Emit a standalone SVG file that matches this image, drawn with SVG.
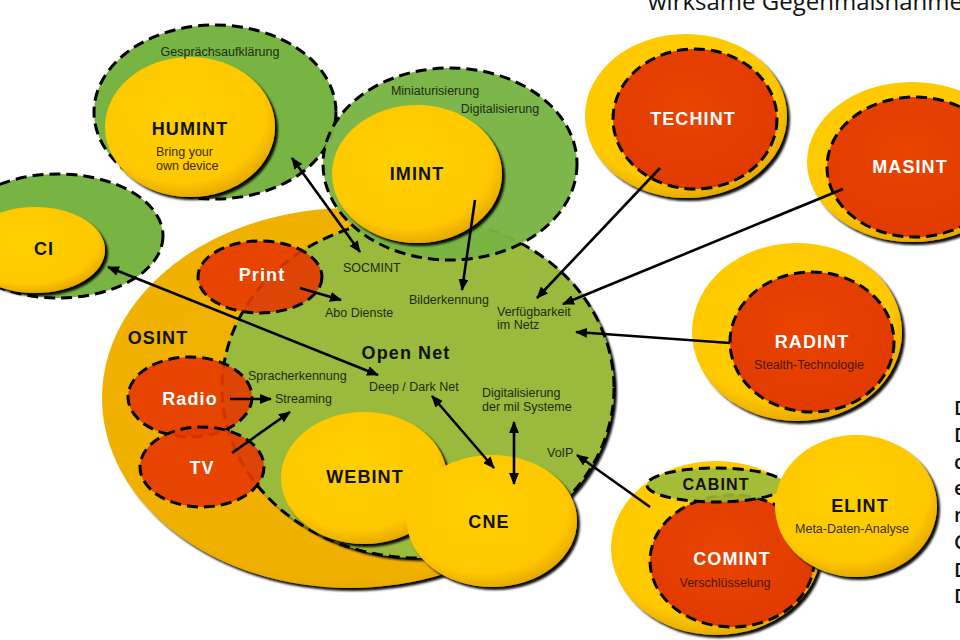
<svg xmlns="http://www.w3.org/2000/svg" width="960" height="640" viewBox="0 0 960 640">
<style>
.b{font-family:"Liberation Sans",Arial,sans-serif;font-weight:bold;font-size:18px;letter-spacing:1.1px;text-anchor:middle;fill:#111}
.w{fill:#fff}
.s{font-family:"Liberation Sans",Arial,sans-serif;font-size:12.5px;fill:#1f2a10}
.m{text-anchor:middle}
.dash{stroke:#000;stroke-width:3;stroke-dasharray:11 6;fill-rule:nonzero}
.ln{stroke:#000;stroke-width:2.6;fill:none}
.t{font-family:"Open Sans","DejaVu Sans",sans-serif;font-size:24px;fill:#111}
.e{font-family:"Open Sans","DejaVu Sans",sans-serif;font-size:20px;font-weight:600;fill:#111}
</style>
<defs>
<radialGradient id="yel" cx="45%" cy="40%" r="62%">
<stop offset="0" stop-color="#ffd000"/><stop offset="0.8" stop-color="#ffc800"/><stop offset="1" stop-color="#e3a600"/>
</radialGradient>
<radialGradient id="osi" cx="50%" cy="45%" r="60%">
<stop offset="0" stop-color="#f2b400"/><stop offset="0.88" stop-color="#efb000"/><stop offset="1" stop-color="#dc9e00"/>
</radialGradient>
<radialGradient id="red" cx="45%" cy="40%" r="62%">
<stop offset="0" stop-color="#ea4400"/><stop offset="1" stop-color="#e03a00"/>
</radialGradient>
<filter id="sh" x="-10%" y="-10%" width="130%" height="130%">
<feDropShadow dx="3" dy="3" stdDeviation="1" flood-color="#000" flood-opacity="0.95"/>
</filter>
<marker id="ah" viewBox="0 0 12 10" refX="11" refY="5" markerWidth="12" markerHeight="10" markerUnits="userSpaceOnUse" orient="auto-start-reverse">
<path d="M0,0 L12,5 L0,10 Z" fill="#000"/>
</marker>
</defs>
<rect width="960" height="640" fill="#fff"/>
<text class="t" x="648" y="10">wirksame Gegenmaßnahmen</text>
<g id="right-text">
<text class="e" x="954" y="415">D</text>
<text class="e" x="954" y="442">D</text>
<text class="e" x="954" y="469">c</text>
<text class="e" x="954" y="495">e</text>
<text class="e" x="954" y="522">n</text>
<text class="e" x="954" y="549">C</text>
<text class="e" x="954" y="577">D</text>
<text class="e" x="954" y="603">D</text>
</g>
<g id="osint">
<ellipse cx="350" cy="398" rx="248" ry="190" fill="url(#osi)" filter="url(#sh)"/>
</g>
<g id="opennet">
<ellipse cx="418" cy="388" rx="196" ry="170" fill="#9aba3c" filter="url(#sh)"/>
<ellipse cx="418" cy="388" rx="196" ry="170" fill="none" class="dash"/>
</g>
<g id="print"><ellipse cx="260" cy="277" rx="62" ry="36" fill="#e43800" fill-opacity="0.9" class="dash"/></g>
<g id="radio"><ellipse cx="190" cy="397" rx="62" ry="40" fill="#e43800" fill-opacity="0.9" class="dash"/></g>
<g id="tv"><ellipse cx="202" cy="467" rx="62" ry="40" fill="#e43800" fill-opacity="0.9" class="dash"/></g>
<g id="webint"><ellipse cx="364" cy="478" rx="83" ry="66" fill="url(#yel)" filter="url(#sh)"/></g>
<g id="cne"><ellipse cx="492" cy="521" rx="85" ry="66" fill="url(#yel)" filter="url(#sh)"/></g>
<g id="humint">
<ellipse cx="215" cy="112" rx="121" ry="87" fill="#78b444" class="dash"/>
<ellipse cx="190" cy="127" rx="85" ry="70" fill="url(#yel)" filter="url(#sh)"/>
</g>
<g id="imint">
<ellipse cx="450" cy="164" rx="127" ry="96" fill="#78b444" fill-opacity="0.96" class="dash"/>
<ellipse cx="417" cy="174" rx="85" ry="69" fill="url(#yel)" filter="url(#sh)"/>
</g>
<g id="ci">
<ellipse cx="58" cy="236" rx="105" ry="62" fill="#78b444" class="dash"/>
<ellipse cx="35" cy="250" rx="70" ry="43" fill="url(#yel)" filter="url(#sh)"/>
</g>
<g id="techint">
<ellipse cx="686" cy="116" rx="101" ry="82" fill="url(#yel)" filter="url(#sh)"/>
<ellipse cx="695" cy="119" rx="82" ry="70" fill="url(#red)" class="dash"/>
</g>
<g id="masint">
<ellipse cx="912" cy="162" rx="105" ry="80" fill="url(#yel)" filter="url(#sh)"/>
<ellipse cx="915" cy="167" rx="88" ry="70" fill="url(#red)" class="dash"/>
</g>
<g id="radint">
<ellipse cx="797" cy="332" rx="105" ry="89" fill="url(#yel)" filter="url(#sh)"/>
<ellipse cx="812" cy="342" rx="82" ry="70" fill="url(#red)" class="dash"/>
</g>
<g id="comint-group">
<ellipse cx="716" cy="548" rx="105" ry="87" fill="url(#yel)" filter="url(#sh)"/>
<ellipse cx="732" cy="561" rx="82" ry="66" fill="url(#red)" class="dash"/>
</g>
<g id="cabint"><ellipse cx="716" cy="485" rx="69" ry="17" fill="#9aba3c" fill-opacity="0.9" class="dash"/></g>
<g id="elint"><ellipse cx="856" cy="506" rx="81" ry="71" fill="url(#yel)" filter="url(#sh)"/></g>
<g id="connectors">
<line class="ln" x1="292" y1="158" x2="360" y2="252" marker-start="url(#ah)" marker-end="url(#ah)"/>
<line class="ln" x1="475" y1="200" x2="462" y2="290" marker-end="url(#ah)"/>
<line class="ln" x1="660" y1="168" x2="537" y2="298" marker-end="url(#ah)"/>
<line class="ln" x1="843" y1="189" x2="563" y2="304" marker-end="url(#ah)"/>
<line class="ln" x1="730" y1="343" x2="576" y2="332" marker-end="url(#ah)"/>
<line class="ln" x1="108" y1="267" x2="378" y2="375" marker-start="url(#ah)" marker-end="url(#ah)"/>
<line class="ln" x1="300" y1="288" x2="341" y2="300" marker-end="url(#ah)"/>
<line class="ln" x1="230" y1="399" x2="271" y2="399" marker-end="url(#ah)"/>
<line class="ln" x1="232" y1="453" x2="290" y2="412" marker-end="url(#ah)"/>
<line class="ln" x1="432" y1="396" x2="494" y2="468" marker-start="url(#ah)" marker-end="url(#ah)"/>
<line class="ln" x1="514" y1="422" x2="514" y2="484" marker-start="url(#ah)" marker-end="url(#ah)"/>
<line class="ln" x1="650" y1="507" x2="577" y2="455" marker-end="url(#ah)"/>
</g>
<g id="labels">
<text class="s m" x="220" y="56">Gesprächsaufklärung</text>
<text class="b" x="190" y="135">HUMINT</text>
<text class="s" x="156" y="156" style="fill:#3a2c00">Bring your</text>
<text class="s" x="156" y="170" style="fill:#3a2c00">own device</text>
<text class="s m" x="435" y="95">Miniaturisierung</text>
<text class="s m" x="500" y="113">Digitalisierung</text>
<text class="b" x="417" y="180">IMINT</text>
<text class="b" x="44" y="255">CI</text>
<text class="b" x="158" y="344">OSINT</text>
<text class="b w" x="262" y="281">Print</text>
<text class="b w" x="190" y="405">Radio</text>
<text class="b w" x="202" y="474">TV</text>
<text class="s" x="343" y="272">SOCMINT</text>
<text class="s" x="325" y="317">Abo Dienste</text>
<text class="s" x="248" y="380">Spracherkennung</text>
<text class="s" x="275" y="403">Streaming</text>
<text class="b" x="406" y="359">Open Net</text>
<text class="s" x="369" y="391">Deep / Dark Net</text>
<text class="s" x="409" y="304">Bilderkennung</text>
<text class="s" x="497" y="316">Verfügbarkeit</text>
<text class="s" x="497" y="329">im Netz</text>
<text class="s" x="482" y="397">Digitalisierung</text>
<text class="s" x="482" y="411">der mil Systeme</text>
<text class="s" x="547" y="457">VoIP</text>
<text class="b" x="365" y="483">WEBINT</text>
<text class="b" x="489" y="528">CNE</text>
<text class="b w" x="693" y="125">TECHINT</text>
<text class="b w" x="910" y="173">MASINT</text>
<text class="b w" x="812" y="348">RADINT</text>
<text class="s m" x="809" y="369" style="fill:#4a1800">Stealth-Technologie</text>
<text class="b" x="716" y="490" style="font-size:16px">CABINT</text>
<text class="b w" x="732" y="565">COMINT</text>
<text class="s m" x="725" y="587" style="fill:#4a1800">Verschlüsselung</text>
<text class="b" x="860" y="512">ELINT</text>
<text class="s m" x="852" y="533" style="fill:#3a2c00">Meta-Daten-Analyse</text>
</g>
</svg>
